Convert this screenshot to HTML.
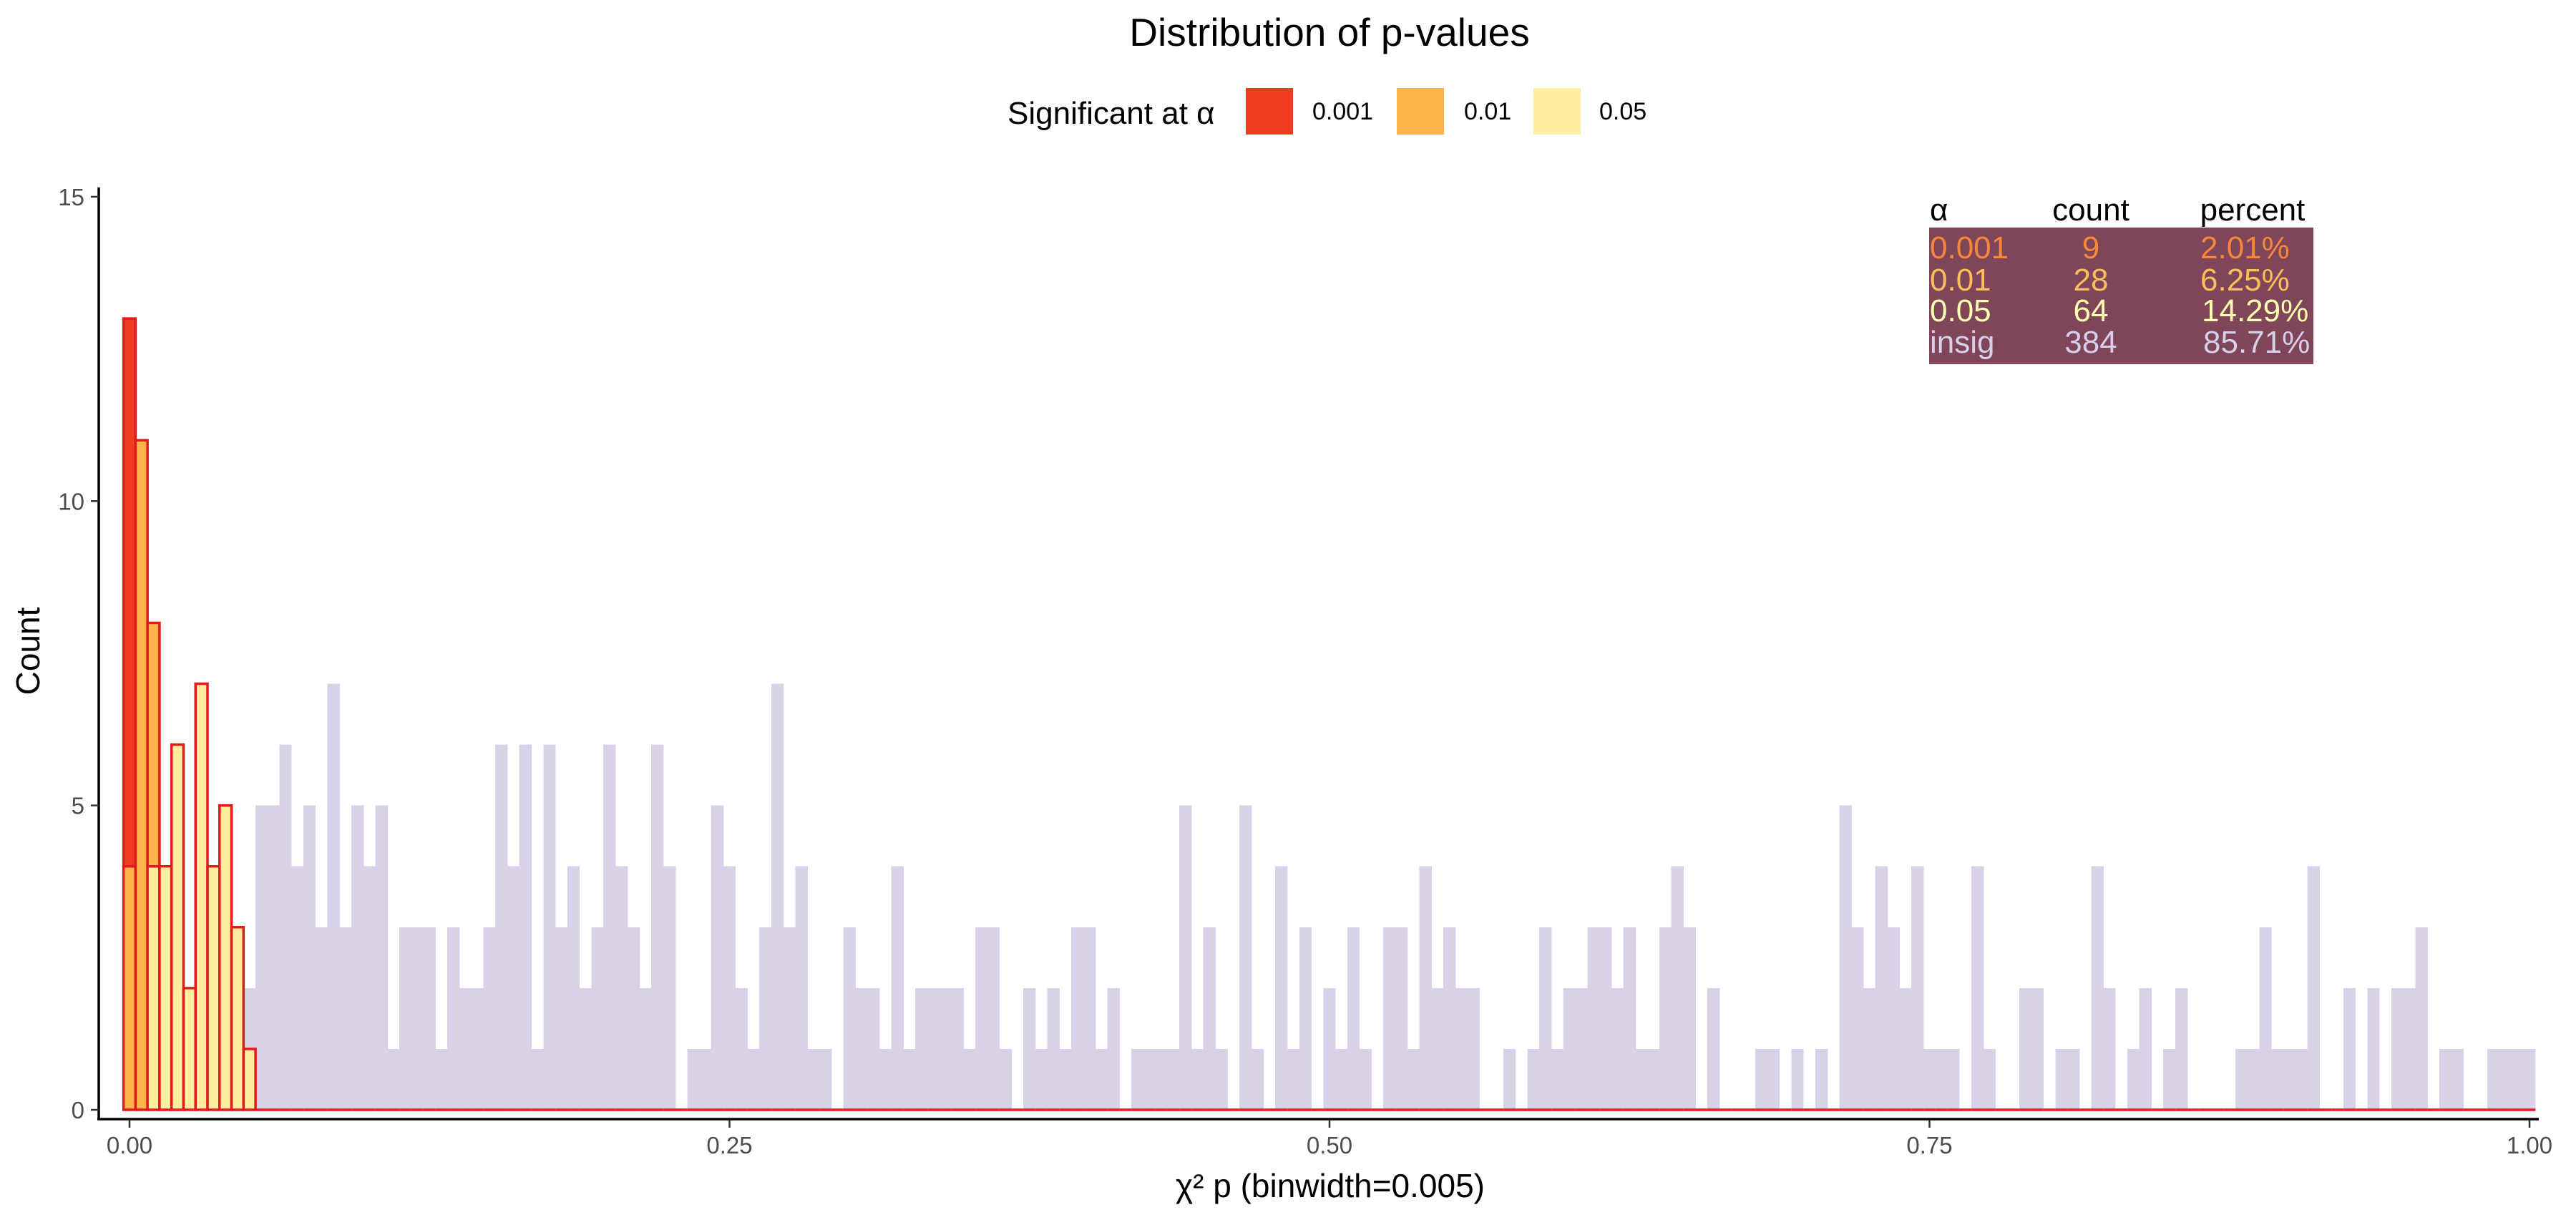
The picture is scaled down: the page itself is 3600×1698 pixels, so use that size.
<!DOCTYPE html>
<html><head><meta charset="utf-8"><title>Distribution of p-values</title>
<style>
html,body{margin:0;padding:0;background:#fff;}
svg{display:block;font-family:"Liberation Sans",Arial,sans-serif;}
</style></head>
<body>
<svg id="chart" width="3600" height="1698" viewBox="0 0 3600 1698" xmlns="http://www.w3.org/2000/svg">
<rect x="0" y="0" width="3600" height="1698" fill="#ffffff"/>
<text x="1858" y="64" font-size="55" text-anchor="middle" fill="#000">Distribution of p-values</text>
<g>
<text x="1408" y="173" font-size="44" fill="#000">Significant at α</text>
<rect x="1741" y="123" width="66" height="65" fill="#F03B20"/>
<text x="1834" y="167" font-size="34" fill="#000">0.001</text>
<rect x="1952" y="123" width="66" height="65" fill="#FEB24C"/>
<text x="2046" y="167" font-size="34" fill="#000">0.01</text>
<rect x="2143" y="123" width="66" height="65" fill="#FFEDA0"/>
<text x="2235" y="167" font-size="34" fill="#000">0.05</text>
</g>
<g id="insigBars" shape-rendering="crispEdges"></g>
<g id="sigBars"></g>
<g id="axes"></g>
<g>
<text x="2697" y="308" font-size="44" fill="#000">α</text>
<text x="2922" y="308" font-size="44" text-anchor="middle" fill="#000">count</text>
<text x="3148" y="308" font-size="44" text-anchor="middle" fill="#000">percent</text>
<rect x="2696" y="318" width="537" height="191" fill="#7F4558"/>
<g font-size="44">
<text x="2697" y="361" fill="#F7873A">0.001</text>
<text x="2922" y="361" text-anchor="middle" fill="#F7873A">9</text>
<text x="3075" y="361" fill="#F7873A">2.01%</text>
<text x="2697" y="406" fill="#FDBF5A">0.01</text>
<text x="2922" y="406" text-anchor="middle" fill="#FDBF5A">28</text>
<text x="3075" y="406" fill="#FDBF5A">6.25%</text>
<text x="2697" y="449" fill="#FFFFB0">0.05</text>
<text x="2922" y="449" text-anchor="middle" fill="#FFFFB0">64</text>
<text x="3077" y="449" fill="#FFFFB0">14.29%</text>
<text x="2697" y="493" fill="#D8CFEA">insig</text>
<text x="2922" y="493" text-anchor="middle" fill="#D8CFEA">384</text>
<text x="3079" y="493" fill="#D8CFEA">85.71%</text>
</g>
</g>
<text transform="translate(55,910) rotate(-90)" font-size="46" text-anchor="middle" fill="#000">Count</text>
<text x="1859" y="1673" font-size="46" text-anchor="middle" fill="#000">χ² p (binwidth=0.005)</text>
</svg>
<script>
// ---- data ----
const binWidth = 0.005;
// counts per bin (bin i centred at i*0.005), significant groups (first bins only; rest are 0)
const sig001 = [9, 0, 0, 0, 0, 0, 0, 0, 0, 0, 0];
const sig01  = [4, 11, 4, 0, 0, 0, 0, 0, 0, 0, 0];
const sig05  = [0, 0, 4, 4, 6, 2, 7, 4, 5, 3, 1];
// insignificant counts, bins 0..200
const insig = [
0,0,0,0,0,0,0,0,0,0,2,
5,5,6,4,5,3,7,3,5,4,5,1,3,3,3,1,3,2,2,3,6,4,6,1,6,3,4,2,3,6,4,
3,2,6,4,0,1,1,5,4,2,1,3,7,3,4,1,1,0,3,2,2,1,4,1,2,2,2,2,1,3,3,1,0,2,1,2,1,3,3,1,2,
0,1,1,1,1,5,1,3,1,0,5,1,0,4,1,3,0,2,1,3,1,0,3,3,1,4,2,3,2,2,0,0,1,0,1,3,1,2,2,3,
3,2,3,1,1,3,4,3,0,2,0,0,0,1,1,0,1,0,1,0,5,3,2,4,3,2,4,1,1,1,0,4,1,0,0,2,2,0,
1,1,0,4,2,0,1,2,0,1,2,0,0,0,0,1,1,3,1,1,1,4,0,0,2,0,2,0,2,2,3,0,1,1,0,0,1,1,1,1
];
const yTicks = [0, 5, 10, 15];
const xTicks = [0, 0.25, 0.5, 0.75, 1.0];
const xTickLabels = ["0.00", "0.25", "0.50", "0.75", "1.00"];

// ---- scales ----
const NS = "http://www.w3.org/2000/svg";
function xScale(p){ return 181 + p * 3354; }
function yScale(v){ return 1551 - v * 85.07; }
function mk(tag, attrs){ const e = document.createElementNS(NS, tag); for (const k in attrs) e.setAttribute(k, attrs[k]); return e; }

const gIn = document.getElementById('insigBars');
const gSig = document.getElementById('sigBars');
const gAx = document.getElementById('axes');

// insignificant bars
insig.forEach((v, i) => {
  if (v <= 0) return;
  const x0 = xScale(i*binWidth - binWidth/2), x1 = xScale(i*binWidth + binWidth/2);
  const r = mk('rect', {x: x0 - 0.3, y: yScale(v), width: x1 - x0 + 0.6, height: yScale(0) - yScale(v), fill: '#D9D1E8'});
  
  
  gIn.appendChild(r);
});

// significant stacked bars
for (let i = 0; i < insig.length; i++) {
  const x0 = xScale(i*binWidth - binWidth/2), x1 = xScale(i*binWidth + binWidth/2);
  const a = i < sig001.length ? sig001[i] : 0;
  const b = i < sig01.length ? sig01[i] : 0;
  const c = i < sig05.length ? sig05[i] : 0;
  const segs = [[c, '#FFEDA0'], [b, '#FEB24C'], [a, '#F03B20']];
  let base = 0;
  if (a + b + c === 0) {
    const ln = mk('line', {x1: x0, x2: x1, y1: yScale(0), y2: yScale(0), stroke: '#E31A1C', 'stroke-width': 3.5});
    
    
    gSig.appendChild(ln);
    continue;
  }
  segs.forEach(([v, col]) => {
    if (v <= 0) return;
    const r = mk('rect', {x: x0, y: yScale(base + v), width: x1 - x0, height: yScale(base) - yScale(base + v), fill: col, stroke: '#E31A1C', 'stroke-width': 3.5});
    
    
    gSig.appendChild(r);
    base += v;
  });
}

// axes
const yAxis = mk('line', {x1: 138, x2: 138, y1: 262, y2: 1565, stroke: '#000', 'stroke-width': 3.5});


gAx.appendChild(yAxis);
const xAxis = mk('line', {x1: 136, x2: 3548, y1: 1564, y2: 1564, stroke: '#000', 'stroke-width': 3.5});


gAx.appendChild(xAxis);

yTicks.forEach(t => {
  const y = yScale(t);
  const tk = mk('line', {x1: 127, x2: 138, y1: y, y2: y, stroke: '#333', 'stroke-width': 2.5});
  
  
  gAx.appendChild(tk);
  const lb = mk('text', {x: 118, y: y + 12, 'font-size': 33, 'text-anchor': 'end', fill: '#4D4D4D'});
  lb.textContent = String(t);
  
  
  gAx.appendChild(lb);
});
xTicks.forEach((t, k) => {
  const x = xScale(t);
  const tk = mk('line', {x1: x, x2: x, y1: 1565, y2: 1576, stroke: '#333', 'stroke-width': 2.5});
  
  
  gAx.appendChild(tk);
  const lb = mk('text', {x: x, y: 1612, 'font-size': 33, 'text-anchor': 'middle', fill: '#4D4D4D'});
  lb.textContent = xTickLabels[k];
  
  
  gAx.appendChild(lb);
});
</script>
</body></html>
